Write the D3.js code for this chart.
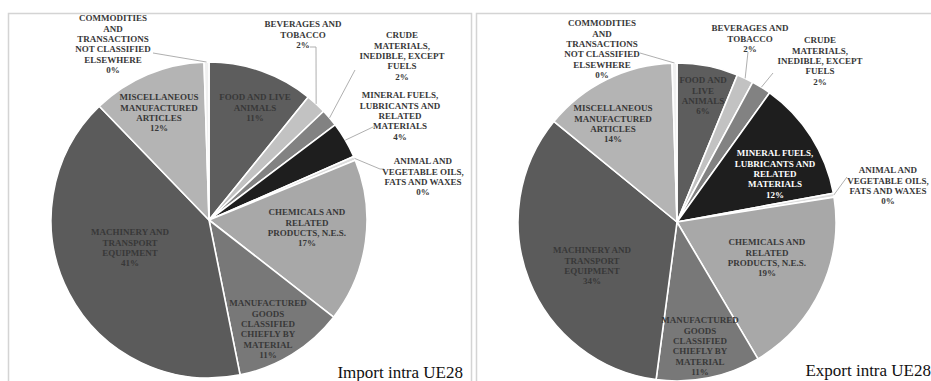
<!DOCTYPE html>
<html><head><meta charset="utf-8">
<script src="https://cdn.jsdelivr.net/npm/d3@7"></script>
<style>
html,body{margin:0;padding:0;background:#fff;}
svg{display:block;}
text{font-family:"Liberation Serif","DejaVu Serif",serif;}
</style></head>
<body><svg id="c" width="931" height="381"></svg>
<script>
// ---- data ----
const categories = [
  ["FOOD AND LIVE","ANIMALS"],
  ["BEVERAGES AND","TOBACCO"],
  ["CRUDE","MATERIALS,","INEDIBLE, EXCEPT","FUELS"],
  ["MINERAL FUELS,","LUBRICANTS AND","RELATED","MATERIALS"],
  ["ANIMAL AND","VEGETABLE OILS,","FATS AND WAXES"],
  ["CHEMICALS AND","RELATED","PRODUCTS, N.E.S."],
  ["MANUFACTURED","GOODS","CLASSIFIED","CHIEFLY BY","MATERIAL"],
  ["MACHINERY AND","TRANSPORT","EQUIPMENT"],
  ["MISCELLANEOUS","MANUFACTURED","ARTICLES"],
  ["COMMODITIES","AND","TRANSACTIONS","NOT CLASSIFIED","ELSEWHERE"]
];
const exportCategories = categories.map((c,i)=> i===0 ? ["FOOD AND","LIVE","ANIMALS"] : c);
const importValues = [10.8, 2.1, 1.8, 3.7, 0.4, 16.7, 11.3, 40.9, 11.7, 0.5];
const exportValues = [6.2, 1.7, 2.0, 12.2, 0.4, 19.0, 10.6, 33.8, 13.6, 0.5];
const importPctLabels = ["11%","2%","2%","4%","0%","17%","11%","41%","12%","0%"];
const exportPctLabels = ["6%","2%","2%","12%","0%","19%","11%","34%","14%","0%"];
const titles = ["Import intra UE28","Export intra UE28"];

// ---- styles / layout ----
const fills = ["#5d5d5d","#c2c2c2","#828282","#1e1e1e","#dcdcdc","#a8a8a8","#787878","#5b5b5b","#b4b4b4","#f0f0f0"];
const charts = [
  {cx:209, cy:220, r:158, box:[8.5,13.5,463], title:titles[0], titleX:463, titleY:378,
   values:importValues, pct:importPctLabels, cats:categories,
   labels:[[46,-123],[94,-196],[193,-185],[191,-125],[214,-59],[98,-8],[59,83],[-79,12],[-50,-123],[-96,-202]],
   leaders:{9:[[-56,-167]],1:[[107,-173],[101,-173]],2:[[146,-150]],3:[[164,-93]],4:[[171,-51],[175,-51]]},
   white:[]},
  {cx:677, cy:222, r:159, box:[476.5,13.5,470], title:titles[1], titleX:931, titleY:376,
   values:exportValues, pct:exportPctLabels, cats:exportCategories,
   labels:[[26,-142],[73,-194],[143,-182],[98,-69],[211,-52],[90,20],[23,98],[-85,28],[-64,-114],[-75,-199]],
   leaders:{9:[[-37,-169]],1:[[71,-170]],2:[[96,-149]],4:[[170,-45]]},
   white:[3]}
];
const lineH = 10.4;

const svg = d3.select("#c");
charts.forEach(ch=>{
  svg.append("rect").attr("x",ch.box[0]).attr("y",ch.box[1]).attr("width",ch.box[2]).attr("height",420)
    .attr("fill","none").attr("stroke","#d4d4d4").attr("stroke-width",1.5);
  const g = svg.append("g").attr("transform",`translate(${ch.cx},${ch.cy})`);
  const pie = d3.pie().sort(null).value(d=>d);
  const arcs = pie(ch.values);
  const arc = d3.arc().innerRadius(0).outerRadius(ch.r);
  g.selectAll("path").data(arcs).join("path")
    .attr("d",arc).attr("fill",(d,i)=>fills[i])
    .attr("stroke","#fff").attr("stroke-width",1.6).attr("stroke-linejoin","round");
  // leaders
  Object.entries(ch.leaders).forEach(([k,pts])=>{
    const a = arcs[+k];
    const m = (a.startAngle+a.endAngle)/2;
    const p0 = [Math.sin(m)*ch.r, -Math.cos(m)*ch.r];
    g.append("path").attr("d",d3.line()([p0,...pts])).attr("fill","none")
      .attr("stroke","#a6a6a6").attr("stroke-width",0.9);
  });
  // labels
  arcs.forEach((a,i)=>{
    const [lx,ly] = ch.labels[i];
    const lines = ch.cats[i].concat([ch.pct[i]]);
    const t = g.append("text").attr("text-anchor","middle")
      .attr("font-size",9).attr("font-weight","bold")
      .attr("fill", ch.white.includes(i) ? "#ffffff" : "#383838");
    lines.forEach((s,j)=>{
      t.append("tspan").attr("x",lx).attr("y",ly + j*lineH + 3.2).text(s);
    });
  });
  svg.append("text").attr("x",ch.titleX).attr("y",ch.titleY).attr("text-anchor","end")
    .attr("font-size",17).attr("fill","#111").text(ch.title);
});
</script></body></html>
